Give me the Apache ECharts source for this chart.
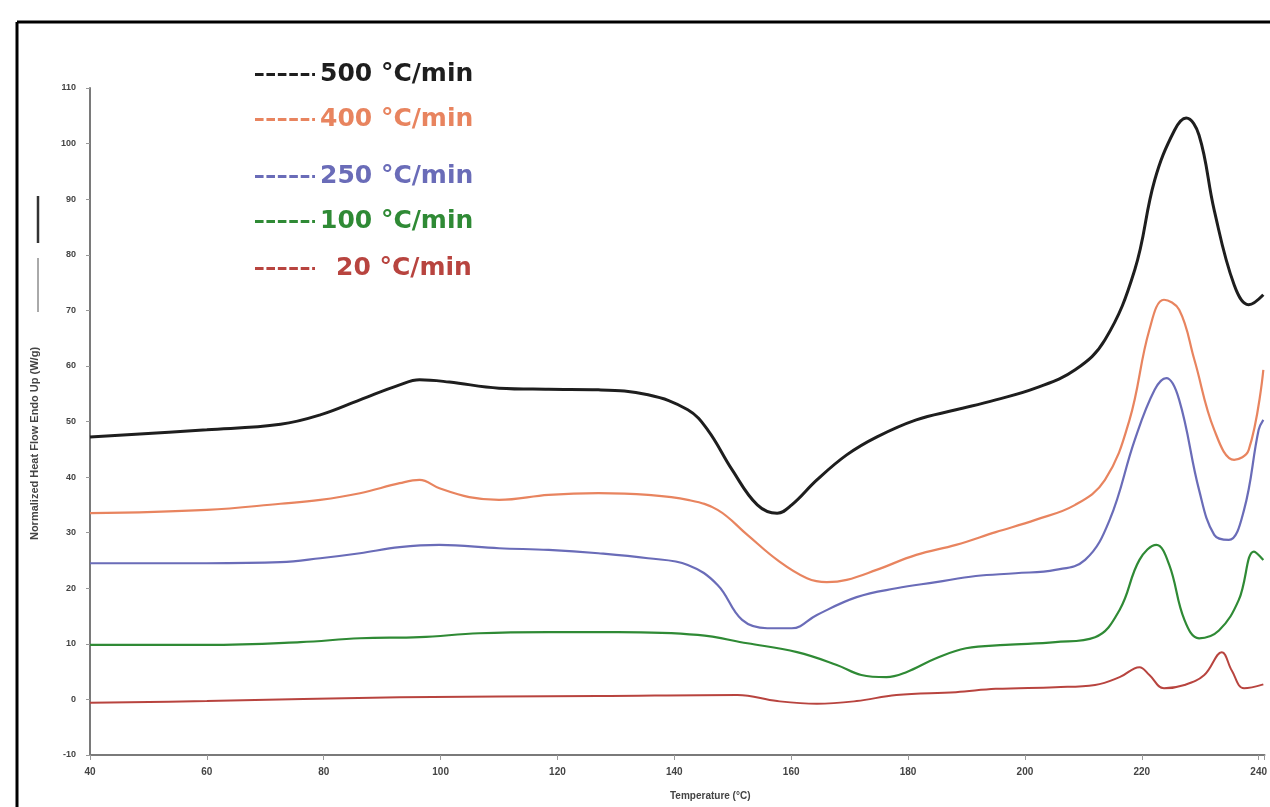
<!DOCTYPE html>
<html>
<head>
<meta charset="utf-8">
<script src="https://cdn.jsdelivr.net/npm/echarts@6/dist/echarts.min.js"></script>
<style>html,body{margin:0;padding:0;background:#fff}#c{width:1270px;height:807px}</style>
</head>
<body>
<div id="c"></div>
<script>
const seriesNames = ['500 °C/min', '400 °C/min', '250 °C/min', '100 °C/min', '20 °C/min'];
const seriesColors = ['#1e1e1e', '#e8845f', '#6a6cb8', '#2f8a35', '#b8443f'];

const temp500 = [40, 60, 72.6, 79.4, 86.2, 93, 96.4, 101.5, 110, 118.5, 127, 135.5, 142.3, 145.7, 149.9, 154.2, 157.6, 160.1, 164.4, 169.5, 174.6, 181.4, 188.2, 195, 201.8, 208.6, 213.7, 218.8, 222.2, 225.6, 227.6, 229.8, 232.4, 235.8, 238.3, 240.8];
const heat500 = [47.2, 48.5, 49.5, 51.2, 53.9, 56.6, 57.5, 57.1, 56.0, 55.8, 55.7, 54.8, 52.1, 48.5, 41.3, 35.0, 33.5, 35.0, 39.5, 44.0, 47.2, 50.3, 52.1, 53.9, 56.0, 59.3, 64.7, 77.3, 93.4, 102.4, 104.6, 101.5, 88.0, 74.6, 71.0, 72.8];

const temp400 = [40, 60, 72.6, 79.4, 86.2, 93, 96.4, 99.8, 104.9, 110, 118.5, 127, 135.5, 142.3, 147.4, 152.5, 157.6, 162.7, 166.1, 169.5, 174.6, 181.4, 188.2, 195, 201.8, 208.6, 213.7, 217.9, 221.3, 223.8, 226.4, 229, 232.4, 235.8, 238.3, 240.8];
const heat400 = [33.5, 34.1, 35.2, 35.9, 37.1, 38.9, 39.5, 38.0, 36.4, 35.9, 36.8, 37.1, 36.8, 35.9, 34.1, 29.6, 25.1, 21.8, 21.1, 21.5, 23.3, 26.0, 27.8, 30.1, 32.3, 35.0, 39.5, 50.3, 66.5, 71.9, 70.1, 61.1, 48.5, 43.1, 44.9, 59.3];

const temp250 = [40, 60, 72.6, 79.4, 86.2, 93, 99.8, 110, 118.5, 127, 135.5, 142.3, 147.4, 151.6, 155.9, 160.1, 164.4, 171.2, 178, 184.8, 191.6, 198.4, 205.2, 210.3, 214.5, 218.8, 222.2, 224.2, 226.4, 229.8, 232.4, 234.9, 237.5, 240, 240.8];
const heat250 = [24.5, 24.5, 24.7, 25.4, 26.3, 27.4, 27.8, 27.2, 26.9, 26.3, 25.4, 24.2, 20.6, 14.3, 12.8, 12.8, 15.2, 18.4, 20.0, 21.1, 22.2, 22.7, 23.3, 25.1, 32.3, 46.7, 55.7, 57.8, 53.9, 37.7, 29.6, 28.7, 34.1, 48.5, 50.3];

const temp100 = [40, 60, 76, 86.2, 96.4, 106.6, 118.5, 130.4, 144, 152.5, 161, 167.8, 172, 176.3, 179.7, 184.8, 189.9, 196.7, 205.2, 212, 216.2, 219.6, 222.5, 224.7, 227.3, 229.8, 233.2, 236.6, 239.2, 240.8];
const heat100 = [9.8, 9.8, 10.3, 11.0, 11.2, 11.9, 12.1, 12.1, 11.6, 10.1, 8.5, 6.2, 4.4, 4.0, 4.9, 7.4, 9.2, 9.8, 10.3, 11.2, 16.1, 25.1, 27.8, 24.2, 14.3, 11.0, 12.4, 17.9, 26.6, 25.1];

const temp20 = [40, 60, 93, 127, 150.8, 157.6, 164.4, 171.2, 178, 188.2, 195, 205.2, 212, 216.2, 219.6, 221.3, 223.8, 227.3, 230.7, 233.7, 235.4, 237.5, 240.8];
const heat20 = [-0.6, -0.3, 0.4, 0.6, 0.8, -0.3, -0.8, -0.3, 0.8, 1.3, 1.9, 2.2, 2.6, 4.0, 5.8, 4.4, 2.0, 2.6, 4.4, 8.5, 5.2, 2.0, 2.7];

const xTicks = [40, 60, 80, 100, 120, 140, 160, 180, 200, 220, 240];
const yTicks = [-10, 0, 10, 20, 30, 40, 50, 60, 70, 80, 90, 100, 110];

const temps = [temp500, temp400, temp250, temp100, temp20];
const heats = [heat500, heat400, heat250, heat100, heat20];
const widths = [3, 2.2, 2.2, 2.2, 2];
const legendTops = [57, 102, 159, 204, 251];

const chart = echarts.init(document.getElementById('c'), null, {renderer: 'canvas'});

const series = seriesNames.map((n, i) => ({
  name: n,
  type: 'line',
  smooth: 0.4,
  showSymbol: false,
  symbol: 'none',
  data: temps[i].map((t, j) => [t, heats[i][j]]),
  lineStyle: {color: seriesColors[i], width: widths[i]},
  itemStyle: {color: seriesColors[i]},
  z: 5 - i
}));

const dashIcon = 'path://M0,0h9v3h-9z M12,0h9v3h-9z M24,0h9v3h-9z M36,0h9v3h-9z M48,0h9v3h-9z M60,0h3v3h-3z';

const legends = seriesNames.map((n, i) => ({
  data: [{name: n, icon: dashIcon}],
  left: 250,
  top: legendTops[i],
  itemWidth: 60,
  itemHeight: 3,
  itemGap: 0,
  selectedMode: false,
  textStyle: {
    color: seriesColors[i],
    fontSize: 25,
    fontFamily: 'DejaVu Sans, sans-serif',
    fontWeight: 'bold',
    padding: [0, 0, 0, i === 4 ? 16 : 0]
  }
}));

chart.setOption({
  animation: false,
  backgroundColor: '#ffffff',
  grid: {left: 90, right: 0, top: 88, bottom: 52, containLabel: false},
  legend: legends,
  xAxis: {
    type: 'value',
    min: 40,
    max: 241,
    interval: 20,
    name: 'Temperature (°C)',
    nameLocation: 'middle',
    nameGap: 36,
    nameTextStyle: {fontSize: 10, color: '#444', fontWeight: 'bold', padding: [0, 0, 0, 66]},
    axisLine: {onZero: false, lineStyle: {color: '#7a7a7a', width: 2}},
    axisTick: {show: true, length: 5, lineStyle: {color: '#999', width: 1}},
    axisLabel: {
      fontSize: 10, color: '#444', fontWeight: 'bold', margin: 12,
      formatter: v => (xTicks.indexOf(v) >= 0 ? String(v) : '')
    },
    splitLine: {show: false}
  },
  yAxis: {
    type: 'value',
    min: -10,
    max: 110,
    interval: 10,
    name: 'Normalized Heat Flow Endo Up (W/g)',
    nameLocation: 'middle',
    nameGap: 50,
    nameTextStyle: {fontSize: 11, color: '#444', fontWeight: 'bold', padding: [0, 0, 0, -44]},
    axisLine: {show: true, onZero: false, lineStyle: {color: '#7a7a7a', width: 2}},
    axisTick: {show: true, length: 4, lineStyle: {color: '#999', width: 1}},
    axisLabel: {
      fontSize: 9, color: '#444', fontWeight: 'bold', margin: 14,
      formatter: v => (yTicks.indexOf(v) >= 0 ? String(v) : '')
    },
    splitLine: {show: false}
  },
  graphic: [
    {type: 'line', shape: {x1: 17, y1: 22, x2: 17, y2: 807}, style: {stroke: '#000', lineWidth: 3}},
    {type: 'line', shape: {x1: 17, y1: 22, x2: 1270, y2: 22}, style: {stroke: '#000', lineWidth: 3}},
    {type: 'line', shape: {x1: 38, y1: 258, x2: 38, y2: 312}, style: {stroke: '#555', lineWidth: 1}},
    {type: 'line', shape: {x1: 38, y1: 196, x2: 38, y2: 243}, style: {stroke: '#333', lineWidth: 2.5}}
  ],
  series: series
});
</script>
</body>
</html>
